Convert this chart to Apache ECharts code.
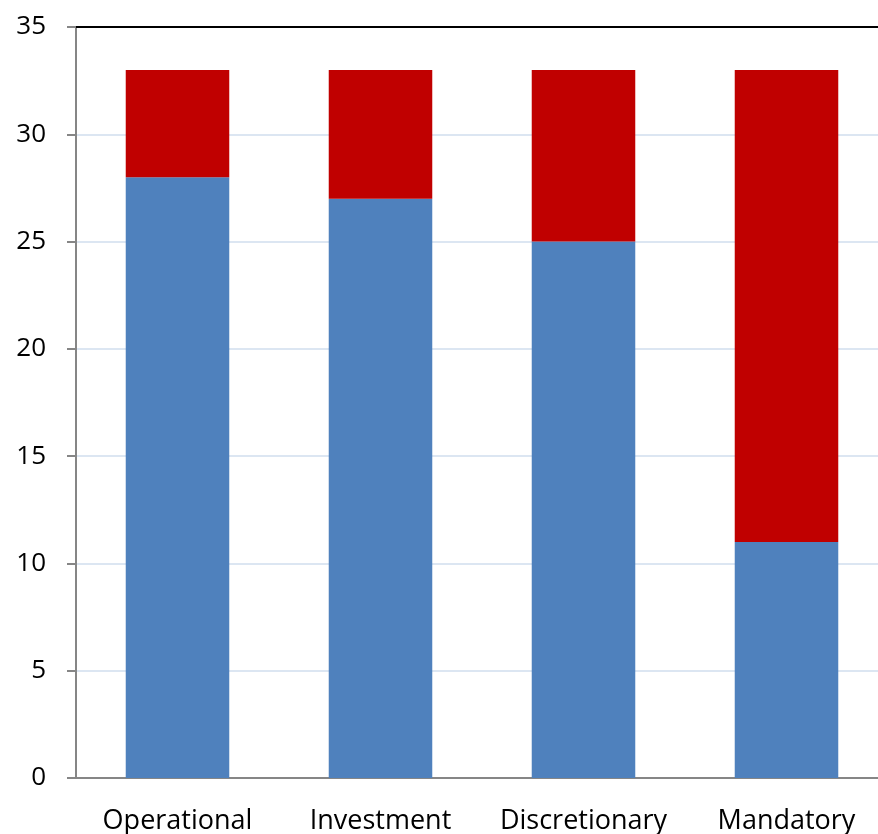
<!DOCTYPE html>
<html><head><meta charset="utf-8">
<script src="https://cdn.jsdelivr.net/npm/echarts@6/dist/echarts.min.js"></script>
<style>html,body{margin:0;padding:0;background:#fff}#c{width:878px;height:834px}</style>
</head><body><div id="c"></div>
<script>
const categories = ['Operational', 'Investment', 'Discretionary', 'Mandatory'];
const blueValues = [28, 27, 25, 11];
const redValues = [5, 6, 8, 22];
const yTicks = [0, 5, 10, 15, 20, 25, 30, 35];

const chart = echarts.init(document.getElementById('c'), null, {renderer: 'canvas'});
const font = '"Open Sans", sans-serif';
chart.setOption({
  animation: false,
  grid: {left: 76, top: 27, bottom: 56, width: 812, containLabel: false, outerBoundsMode: 'none'},
  xAxis: [{
    type: 'category', data: categories,
    axisLine: {lineStyle: {color: '#868686', width: 2}},
    axisTick: {show: false},
    axisLabel: {color: '#000', fontSize: 27, fontFamily: font, margin: 30, interval: 0, hideOverlap: false}
  }, {
    type: 'category', data: categories, position: 'top',
    axisLine: {lineStyle: {color: '#000', width: 2}},
    axisTick: {show: false}, axisLabel: {show: false}
  }],
  yAxis: {
    type: 'value', min: yTicks[0], max: yTicks[yTicks.length - 1], interval: 5,
    axisLine: {show: true, lineStyle: {color: '#868686', width: 2}},
    axisTick: {show: true, length: 9, lineStyle: {color: '#868686', width: 2}},
    axisLabel: {color: '#000', fontSize: 26, fontFamily: font, margin: 30},
    splitLine: {lineStyle: {color: '#dce6f2', width: 2}}
  },
  series: [{
    type: 'bar', stack: 's', data: blueValues, barWidth: '51%',
    itemStyle: {color: '#4f81bd'}
  }, {
    type: 'bar', stack: 's', data: redValues, barWidth: '51%',
    itemStyle: {color: '#c00000'}
  }]
});
</script></body></html>
